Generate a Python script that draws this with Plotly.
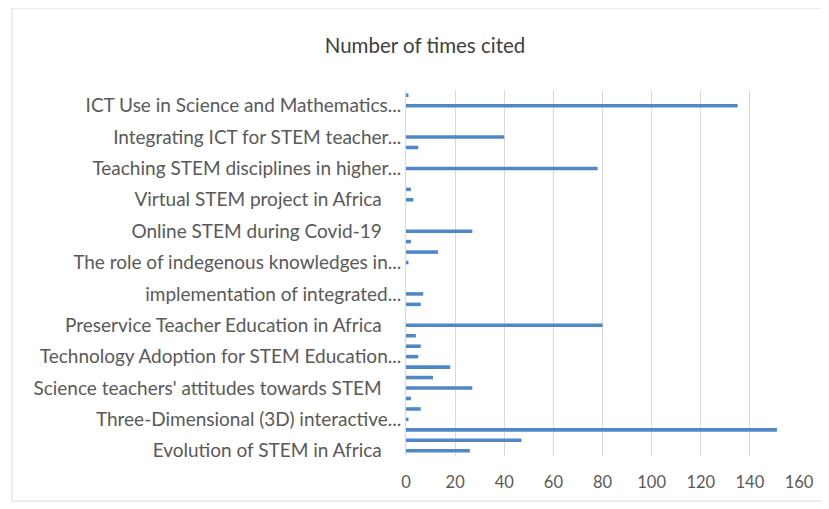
import plotly.graph_objects as go

# Values from bottom (first category) to top (last category)
citations = [26, 47, 151, 1, 6, 2, 27, 11, 18, 5, 6, 4, 80, 0, 6, 7, 0, 0, 1, 13,
             2, 27, 0, 0, 3, 2, 0, 78, 0, 5, 40, 0, 0, 135, 1]

# Only every third category carries a visible label (Excel label skipping)
label_positions = [1, 4, 7, 10, 13, 16, 19, 22, 25, 28, 31, 34]
label_texts = [
    "Evolution of STEM in Africa",
    "Three-Dimensional (3D) interactive...",
    "Science teachers' attitudes towards STEM",
    "Technology Adoption for STEM Education...",
    "Preservice Teacher Education in Africa",
    "implementation of integrated...",
    "The role of indegenous knowledges in...",
    "Online STEM during Covid-19",
    "Virtual STEM project in Africa",
    "Teaching STEM disciplines in higher...",
    "Integrating ICT for STEM teacher...",
    "ICT Use in Science and Mathematics...",
]
x_ticks = [0, 20, 40, 60, 80, 100, 120, 140, 160]
title_text = "Number of times cited"

positions = list(range(1, len(citations) + 1))
pad = "\u00a0" * 4
ticktext = [t if t.endswith("...") else t + pad for t in label_texts]

FONT = "Lato"
GRAY = "#595959"

fig = go.Figure(go.Bar(
    x=citations, y=positions, orientation="h",
    marker=dict(color="#4f88c6", line=dict(width=0)),
    hoverinfo="x+y",
))

# page body has an 8px margin; figure placed at (8, 8) on screen
OFF = 8
W, H = 829 - OFF, 509 - OFF
L, T = 406 - OFF, 90 - OFF
pw, ph = 393, 366
R = W - L - pw
B = H - T - ph

def px_x(p):
    return (p - OFF - L) / pw

def px_y(p):
    return 1 - (p - OFF - T) / ph

fig.update_layout(
    width=W, height=H,
    margin=dict(l=L, r=R, t=T, b=B, pad=0),
    paper_bgcolor="white", plot_bgcolor="white",
    bargap=0.66,
    showlegend=False,
    title=dict(text=title_text, x=(425 - OFF) / W, xanchor="center",
               y=1 - (46 - OFF) / H, yanchor="middle", yref="container",
               font=dict(family=FONT, size=20.5, color="#404040")),
    font=dict(family=FONT, size=16, color=GRAY),
    xaxis=dict(range=[0, 160], tickvals=x_ticks, showgrid=True,
               gridcolor="#d9d9d9", gridwidth=1, zeroline=False,
               showline=False, ticks="", ticklabelstandoff=14,
               tickfont=dict(family=FONT, size=16.5, color=GRAY), fixedrange=True),
    yaxis=dict(range=[0.5, len(citations) + 0.5], tickvals=label_positions,
               ticktext=ticktext, showgrid=False, zeroline=False,
               showline=True, linecolor="#d9d9d9", linewidth=1, ticks="",
               tickfont=dict(family=FONT, size=19, color=GRAY), fixedrange=True),
    shapes=[dict(type="rect", xref="paper", yref="paper",
                 x0=px_x(12), x1=px_x(822), y0=px_y(501), y1=px_y(8),
                 line=dict(color="#d9d9d9", width=1), layer="below")],
)

fig.write_html("out.html")
